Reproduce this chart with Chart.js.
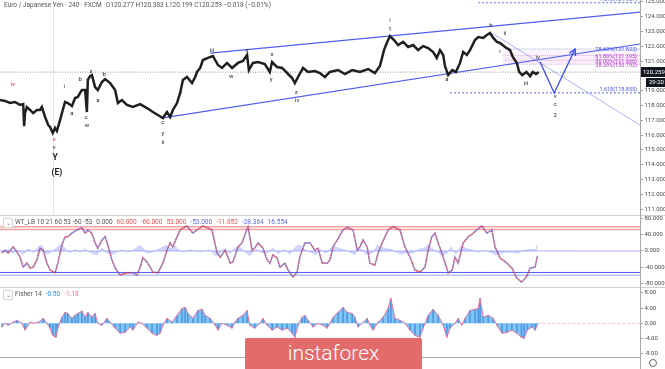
<!DOCTYPE html>
<html><head><meta charset="utf-8">
<script src="https://cdn.jsdelivr.net/npm/chart.js@4.4.1/dist/chart.umd.min.js"></script>
<style>
html,body{margin:0;padding:0;background:#fff;}
#wrap{position:relative;width:665px;height:369px;overflow:hidden;font-family:Roboto,"Liberation Sans",Arial,sans-serif;}
canvas{position:absolute;left:0;}
.sep{position:absolute;left:0;width:665px;height:1px;background:#cfcfcf;}
.vax{position:absolute;left:640px;top:0;width:1px;height:369px;background:#a8a8a8;}
.hdr{position:absolute;font-size:6.5px;line-height:8px;color:#555;white-space:nowrap;}
.hdr span{margin-left:4px;}
.box{position:absolute;width:8px;height:8px;border:1px solid #d4d4d4;border-radius:1px;font-size:6px;line-height:7px;text-align:center;color:#777;background:#fff;}
.wm{position:absolute;left:245px;top:338px;width:177px;height:34px;background:#e36b6b;border-radius:2px;color:#fff;font-size:21px;font-weight:300;text-align:center;line-height:31px;}
.gear{position:absolute;left:649px;top:359px;width:6px;height:6px;border:1.5px solid #666;border-radius:50%;}
</style></head>
<body><div id="wrap">
<canvas id="cMain" width="665" height="215" style="top:0"></canvas>
<canvas id="cWT" width="665" height="71" style="top:216px"></canvas>
<canvas id="cFisher" width="665" height="81" style="top:288px"></canvas>
<div class="sep" style="top:215px"></div>
<div class="sep" style="top:287px"></div>
<div class="vax"></div>
<div class="hdr" style="left:4px;top:1px">Euro / Japanese Yen · 240 · FXCM<span>O120.277</span> H120.383 L120.199 C120.259 −0.018 (−0.01%)</div>
<div class="box" style="left:3px;top:218px">⌄</div>
<div class="hdr" style="left:15px;top:218px">WT_LB 10 21 60 53 -60 -53<span>0.000</span><span style="color:#ef5350">60.000</span><span style="color:#ef5350">-60.000</span><span style="color:#ef5350">53.000</span><span style="color:#5c6bf0">-53.000</span><span style="color:#ef5350">-11.852</span><span style="color:#5c6bf0">-28.364</span><span style="color:#5c6bf0">16.554</span></div>
<div class="box" style="left:3px;top:290px">⌄</div>
<div class="hdr" style="left:15px;top:290px">Fisher 14<span style="color:#2196f3">-0.50</span><span style="color:#f06292">-1.18</span></div>
<div class="wm">instaforex</div>
<div class="gear"></div>
</div>
<script>
// ---------- DATA (x = trading days since 20 Aug 2019) ----------
const X_MIN = -1.1, X_MAX = 139.56;
const timeTickDays   = [0, 9.2, 19.1, 31.0, 40.2, 54.3, 64.9, 74.9, 84.9, 96.3, 108.4, 118.0, 128.8, 138.0];
const timeTickLabels = ['20','Sep','16','Oct','14','Nov','18','Dec','16','2020','20','Feb','17','Mar'];

const priceTicks  = [111,112,113,114,115,116,117,118,119,120,121,122,123,124,125];
const wtTicks     = [80,40,0,-40,-80];
const fisherTicks = [8,4,0,-4,-8];

const lastClose = 120.259;
const markerDay = 10.5;

const priceSeries = [
 [-1.1,118.37],[0,118.31],[1.1,118.17],[2.2,118.24],[3.3,118.04],[4.0,118.10],[4.2,116.60],[4.4,117.49],[4.8,117.90],[5.5,117.70],
 [6.2,117.49],[7.0,117.70],[7.7,117.70],[8.1,117.90],[8.8,117.23],[9.5,116.68],[9.9,116.55],[10.5,116.14],[11.0,116.48],[11.4,116.28],
 [12.1,117.02],[12.7,117.70],[13.2,118.24],[13.8,118.17],[14.7,117.97],[15.4,118.51],[16.0,118.58],[16.5,118.85],[16.9,119.05],[17.6,119.05],
 [18.0,117.56],[18.2,119.73],[18.7,119.99],[19.1,120.06],[19.8,119.25],[20.4,119.05],[21.3,119.59],[22.0,119.79],[23.1,119.52],[24.2,119.05],
 [24.8,118.17],[25.7,118.37],[26.8,118.04],[28.1,117.90],[29.7,118.10],[31.2,117.83],[32.5,117.56],[33.6,117.36],[34.7,117.16],[35.6,117.56],
 [36.3,117.23],[36.9,117.70],[37.8,118.17],[38.5,118.85],[39.1,119.73],[40.0,119.93],[41.1,119.52],[41.8,119.93],[42.2,120.27],[42.9,120.54],
 [43.5,121.08],[44.6,121.22],[45.7,121.35],[46.8,120.74],[47.7,120.54],[48.8,120.88],[49.9,120.54],[51.2,120.88],[52.3,121.01],[53.2,121.42],
 [53.6,120.40],[54.5,120.88],[55.6,120.94],[57.1,120.81],[58.2,120.27],[58.7,120.94],[59.8,120.60],[60.9,120.54],[62.0,120.20],[63.1,119.86],
 [63.7,119.52],[64.4,119.93],[65.5,120.54],[66.6,120.27],[68.1,120.33],[69.2,120.20],[70.3,119.93],[71.4,120.27],[73.2,120.40],[74.7,120.13],
 [76.3,120.40],[78.0,120.27],[79.8,120.47],[81.3,120.20],[82.4,120.67],[83.3,121.75],[84.0,122.30],[84.6,122.70],[85.5,122.43],[86.4,122.09],
 [87.5,122.30],[88.6,121.96],[89.7,122.09],[90.8,121.75],[91.9,122.02],[93.0,121.89],[94.1,121.62],[94.9,121.22],[95.6,121.75],[96.3,121.42],
 [96.7,120.67],[97.4,120.06],[98.3,120.40],[99.1,120.27],[100.0,120.88],[100.7,121.62],[101.5,121.42],[102.2,121.75],[103.3,122.43],[104.0,122.63],
 [105.1,122.57],[105.9,122.77],[106.6,122.90],[107.3,122.57],[108.1,122.30],[108.8,122.23],[109.9,121.96],[111.0,121.75],[111.6,121.28],[112.5,120.88],
 [113.0,120.27],[113.7,120.06],[114.6,120.27],[115.4,119.99],[116.0,120.27],[116.7,120.13],[117.3,120.259]
];

const upperChannel = [[45.1,121.55],[139.56,124.32]];
const lowerChannel = [[34.7,117.16],[139.56,122.16]];
const trendFromB   = [[107.0,122.90],[139.56,116.68]];
const projection   = [[117.6,120.94],[120.7,118.85],[125.3,121.82]];

const fibNames  = ['78.60%','61.80%','50.00%','38.20%'];
const fibPrices = [121.823,121.395,121.066,120.792];
const fibStart  = 109.5;
const extPrices = [124.951,118.855];
const extStarts = [104.0,97.8];

const waveLabels = [
 ['iv',1.7,119.39,'sub'],['i',13.0,119.32,'n'],['a',14.7,117.49,'n'],['b',16.5,119.73,'n'],['c',17.8,117.22,'n'],
 ['w',18.0,116.62,'n'],['x',18.9,120.27,'n'],['a',20.4,118.31,'n'],['b',21.8,120.13,'n'],['v',10.8,115.73,'sub'],
 ['v',10.8,115.13,'n'],['Y',11.0,114.45,'big'],['(E)',11.4,113.44,'big'],['c',34.7,116.82,'n'],['y',34.7,116.14,'n'],
 ['ii',34.7,115.53,'n'],['i',38.7,118.85,'n'],['iii',45.5,121.75,'n'],['w',49.7,119.99,'n'],['x',53.2,121.75,'n'],
 ['x',58.7,121.42,'n'],['y',58.5,119.79,'n'],['z',64.0,118.91,'n'],['iv',64.2,118.31,'n'],['i',84.6,123.78,'n'],
 ['1',84.6,123.11,'n'],['a',97.1,119.79,'n'],['b',106.8,123.38,'n'],['ii',109.9,122.90,'n'],['i',108.8,121.62,'n'],
 ['iii',114.5,119.52,'n'],['iv',117.1,121.28,'n'],['v',120.9,118.58,'n'],['c',120.9,118.04,'n'],['2',120.9,117.36,'n']
];

const wtSeries = [
 [-0.7,-5],[0,2],[0.7,-5],[1.8,10],[2.6,-2],[3.3,-15],[4.0,-40],[4.8,-30],[5.5,-42],[6.2,-40],
 [7.0,-22],[7.7,7],[8.4,2],[9.2,-30],[9.9,-47],[11.0,-54],[11.6,-30],[12.5,15],[13.2,35],[13.8,35],
 [14.7,44],[15.8,52],[16.9,58],[17.6,44],[18.2,52],[19.1,44],[19.8,20],[20.4,7],[21.3,27],[22.0,35],
 [22.6,15],[23.5,-22],[24.2,-42],[25.3,-59],[26.8,-54],[28.1,-54],[29.0,-59],[29.7,-40],[30.3,-17],[31.2,-27],
 [31.9,-40],[32.5,-52],[33.6,-54],[34.7,-30],[35.6,2],[36.3,20],[36.9,10],[37.8,35],[38.5,52],[40.0,62],
 [40.7,52],[41.3,44],[42.2,52],[43.5,62],[45.5,52],[46.6,-5],[47.3,-15],[48.4,2],[49.5,-30],[50.1,-27],
 [51.2,10],[52.1,20],[53.2,55],[53.4,60],[54.3,2],[54.9,7],[55.6,20],[56.7,7],[57.6,-22],[58.2,-30],
 [58.9,-10],[59.8,-17],[60.4,-40],[61.5,-30],[62.2,-47],[63.3,-64],[64.2,-52],[64.8,-15],[65.9,20],[67.0,20],
 [68.1,2],[68.8,7],[69.7,-30],[70.8,-30],[71.4,-22],[72.1,10],[73.0,27],[74.3,52],[75.2,58],[76.5,52],
 [77.4,2],[78.0,10],[78.7,27],[79.6,10],[80.2,-30],[81.3,-35],[82.0,-5],[82.9,20],[83.5,35],[84.2,52],
 [85.3,60],[86.8,52],[87.9,10],[89.0,-15],[90.1,-47],[91.2,-52],[92.3,-40],[93.0,2],[93.8,35],[94.5,44],
 [95.2,20],[96.3,-15],[97.4,-54],[98.3,-47],[98.9,-15],[99.6,-30],[100.7,20],[101.8,35],[102.9,44],[103.7,52],
 [104.8,62],[105.9,44],[107.0,52],[107.7,10],[108.8,-17],[110.3,-30],[111.4,-42],[112.5,-67],[113.5,-77],[114.6,-64],
 [115.4,-42],[116.5,-40],[117.0,-12]
];
const wtHist = [
 [-0.7,-3],[0.7,4],[1.8,-6],[2.6,3],[4.0,-10],[5.1,6],[6.2,-4],[7.3,10],[8.1,14],[9.0,-8],
 [9.9,-5],[11.0,4],[11.6,12],[12.5,16],[13.2,6],[14.3,-5],[15.4,4],[16.5,-3],[17.6,5],[19.1,-6],
 [20.2,-10],[21.3,8],[22.4,-5],[23.5,-8],[24.6,-4],[25.7,3],[27.0,-3],[28.6,5],[29.5,14],[30.3,8],
 [31.2,-6],[32.3,-3],[33.6,4],[34.7,10],[35.4,14],[36.3,6],[37.4,12],[38.0,4],[39.1,-3],[40.7,3],
 [42.9,-2],[45.1,3],[46.2,-12],[47.0,-8],[48.1,6],[49.5,-6],[50.5,8],[51.6,10],[53.0,-5],[53.8,-12],
 [55.2,4],[56.5,-5],[57.8,-4],[58.9,8],[60.0,-8],[61.3,4],[62.6,-8],[64.0,12],[64.8,14],[65.9,3],
 [67.5,-5],[68.4,-10],[69.2,4],[70.5,-6],[71.4,6],[72.3,12],[73.6,6],[74.7,3],[75.8,-3],[76.9,-10],
 [77.6,6],[78.5,4],[79.3,-8],[80.7,-6],[81.8,14],[82.6,10],[83.7,6],[85.1,3],[86.2,-5],[87.3,-8],
 [88.4,-4],[89.5,-6],[90.8,4],[92.1,8],[93.0,16],[93.8,6],[95.2,-4],[96.0,-12],[97.1,-6],[98.0,10],
 [99.1,-8],[100.2,12],[101.5,6],[102.6,3],[104.0,-3],[105.3,2],[106.6,-3],[107.9,-10],[108.8,-6],[110.1,-4],
 [111.4,-3],[112.7,-6],[113.9,2],[115.4,4],[116.5,3],[117.0,16.6]
];
const wtLevels = [60,53,-53,-60];

const fisherSeries = [
 [-0.7,-1.0],[0,0],[0.7,-0.5],[1.8,0.3],[2.6,0.8],[3.7,0],[4.4,-1.8],[5.5,0.3],[6.2,0],[7.3,0.3],
 [8.4,1.3],[9.2,0],[9.9,-1.3],[10.5,-3.2],[11.2,-3.7],[11.6,-1.3],[12.5,1.6],[13.2,2.9],[13.8,2.6],[14.7,1.3],
 [15.4,2.1],[16.0,2.6],[16.9,3.2],[17.6,1.6],[18.2,2.9],[19.1,1.6],[19.8,2.6],[20.4,0],[21.3,-0.5],[22.4,1.3],
 [23.1,0.3],[24.2,-1.3],[25.3,-2.6],[26.4,-2.4],[27.5,-1.0],[28.1,-1.8],[29.2,0.3],[30.1,0],[31.2,-1.3],[32.3,-2.6],
 [33.4,-3.2],[34.1,-2.6],[34.7,-0.5],[35.6,1.3],[36.7,0.3],[37.8,2.1],[38.9,3.9],[39.6,4.2],[40.2,2.6],[41.3,1.3],
 [42.4,3.4],[43.3,3.7],[44.0,2.1],[45.1,1.3],[46.2,-0.5],[46.8,-1.8],[47.7,0],[48.8,-0.5],[49.9,-1.3],[50.5,0.3],
 [51.2,1.3],[52.3,2.1],[53.2,3.4],[53.8,-0.5],[54.9,-1.3],[56.0,0],[56.7,1.3],[57.6,-0.5],[58.7,-1.8],[59.8,-1.0],
 [60.9,-1.8],[62.0,-1.3],[63.1,-2.6],[63.7,-3.7],[64.4,-0.5],[65.3,1.6],[65.9,2.1],[66.6,0.8],[67.7,-1.0],[68.8,0],
 [69.9,-0.5],[70.8,-1.3],[71.4,0],[72.1,1.6],[73.2,2.9],[74.3,4.2],[75.2,2.9],[76.3,2.6],[76.9,1.6],[77.6,-1.0],
 [78.5,0],[79.6,1.3],[80.2,-0.5],[80.9,-1.8],[82.0,0.3],[83.1,1.6],[84.2,3.9],[84.8,6.6],[85.7,1.3],[86.8,0.8],
 [87.9,0],[89.0,-1.8],[90.1,-3.2],[91.2,-3.7],[91.9,-1.3],[93.0,2.1],[94.1,3.7],[95.2,2.1],[96.3,-0.5],[97.1,-3.7],
 [97.8,-1.3],[98.9,0],[99.6,1.3],[100.4,-0.5],[101.1,1.3],[102.2,3.4],[103.3,3.7],[104.0,3.9],[104.4,6.6],[105.1,1.6],
 [106.2,2.1],[107.3,1.3],[108.1,-0.5],[109.2,-2.6],[110.3,-2.4],[111.4,-1.8],[112.5,-2.6],[113.5,-3.7],[114.1,-4.0],[114.8,-1.8],
 [115.8,-1.0],[116.5,-1.8],[117.0,-0.5]
];

// ---------- helpers ----------
const toXY = arr => arr.map(([d,v]) => ({x:d, y:v}));
const FONT = 'Roboto, "Liberation Sans", Arial, sans-serif';
const AX_COLOR = '#4a4a4a';

function xHidden(){ return {type:'linear', min:X_MIN, max:X_MAX, display:false, offset:false}; }
function yRight(min, max, ticksArr, dec){
  return {
    position:'right', min, max,
    afterFit(s){ s.width = 25; s.paddingTop = 0; s.paddingBottom = 0; },
    afterBuildTicks(s){ s.ticks = ticksArr.map(v => ({value:v})); },
    grid:{drawOnChartArea:false, drawTicks:true, tickLength:3, color:'#9e9e9e'},
    border:{display:false},
    ticks:{padding:1.5, color:AX_COLOR, font:{size:6, family:FONT}, callback:v => Number(v).toFixed(dec)}
  };
}
function seg(data, color, width, dash){
  return {type:'line', data, borderColor:color, borderWidth:width, borderDash:dash||[], pointRadius:0, tension:0, fill:false};
}
const baseOpts = {responsive:false, animation:false, events:[], layout:{padding:0},
  plugins:{legend:{display:false}, tooltip:{enabled:false}}};

// ---------- MAIN PRICE PANE ----------
const projColor = '#3d50f2';
const mainDatasets = [
  seg(toXY(priceSeries), '#1f1f1f', 2.5),
  seg(toXY(projection), projColor, 1.4),
  seg(toXY(upperChannel), '#4d5ff2', 1.2),
  seg(toXY(lowerChannel), '#4d5ff2', 1.2),
  seg(toXY(trendFromB), 'rgba(110,125,245,0.75)', 0.8),
  seg([{x:X_MIN,y:lastClose},{x:X_MAX,y:lastClose}], '#8c8c8c', 1, [1,1.5]),
  seg([{x:extStarts[0],y:extPrices[0]},{x:X_MAX,y:extPrices[0]}], '#5865f0', 1, [2,2]),
  seg([{x:extStarts[1],y:extPrices[1]},{x:X_MAX,y:extPrices[1]}], '#5865f0', 1, [2,2])
];
const fibLineColors = ['rgba(100,140,240,0.8)','rgba(206,110,220,0.7)','rgba(206,110,220,0.7)','rgba(206,110,220,0.7)'];
const fibFillColors = [null,'rgba(215,170,235,0.12)','rgba(225,150,225,0.18)','rgba(225,150,225,0.18)'];
fibPrices.forEach((p,i) => {
  const ds = seg([{x:fibStart,y:p},{x:X_MAX,y:p}], fibLineColors[i], 0.8, [1,1]);
  if (i > 0) { ds.fill = '-1'; ds.backgroundColor = fibFillColors[i]; }
  mainDatasets.push(ds);
});

const mainDecor = {
  id:'mainDecor',
  beforeDatasetsDraw(chart){
    const {ctx, scales:{x}, chartArea:a} = chart;
    const px = Math.round(x.getPixelForValue(markerDay)) + 0.5;
    ctx.save(); ctx.strokeStyle = '#e4e6ec'; ctx.lineWidth = 1;
    ctx.beginPath(); ctx.moveTo(px, a.top); ctx.lineTo(px, a.bottom); ctx.stroke(); ctx.restore();
  },
  afterDatasetsDraw(chart){
    const {ctx, scales:{x, y}, chartArea:a} = chart;
    ctx.save();
    ctx.textAlign = 'center'; ctx.textBaseline = 'middle';
    waveLabels.forEach(([t,d,p,deg]) => {
      if (deg === 'big') { ctx.font = 'bold 8.5px ' + FONT; ctx.fillStyle = '#1e1e1e'; }
      else if (deg === 'sub') { ctx.font = '6px ' + FONT; ctx.fillStyle = '#e91e63'; }
      else { ctx.font = '6px ' + FONT; ctx.fillStyle = '#1e1e1e'; }
      ctx.fillText(t, x.getPixelForValue(d), y.getPixelForValue(p));
    });
    const n = projection.length;
    const x1 = x.getPixelForValue(projection[n-2][0]), y1 = y.getPixelForValue(projection[n-2][1]);
    const x2 = x.getPixelForValue(projection[n-1][0]), y2 = y.getPixelForValue(projection[n-1][1]);
    const ang = Math.atan2(y2-y1, x2-x1);
    ctx.strokeStyle = projColor; ctx.lineWidth = 1.4;
    ctx.beginPath();
    ctx.moveTo(x2 - 7*Math.cos(ang-0.5), y2 - 7*Math.sin(ang-0.5));
    ctx.lineTo(x2, y2);
    ctx.lineTo(x2 - 7*Math.cos(ang+0.5), y2 - 7*Math.sin(ang+0.5));
    ctx.stroke();
    ctx.textAlign = 'right'; ctx.textBaseline = 'middle'; ctx.font = '5.5px ' + FONT;
    fibPrices.forEach((p,i) => {
      ctx.fillStyle = i === 0 ? '#4a5ae8' : '#b03fc8';
      ctx.fillText(fibNames[i] + '(' + p.toFixed(3) + ')', a.right - 3, y.getPixelForValue(p) + 1);
    });
    ctx.textBaseline = 'bottom'; ctx.fillStyle = '#4a5ae8';
    extPrices.forEach(p => ctx.fillText('1.618(' + p.toFixed(3) + ')', a.right - 3, y.getPixelForValue(p) - 0.5));
    const py = Math.round(y.getPixelForValue(lastClose));
    ctx.fillStyle = '#131722';
    ctx.fillRect(a.right + 1, py - 5, 24, 10);
    ctx.fillRect(a.right + 6, py + 6, 19, 9);
    ctx.fillStyle = '#fff'; ctx.textAlign = 'left'; ctx.textBaseline = 'middle'; ctx.font = '6px ' + FONT;
    ctx.fillText(lastClose.toFixed(3), a.right + 3, py + 0.5);
    ctx.fillText('29:20', a.right + 9, py + 10.5);
    ctx.restore();
  }
};

new Chart(document.getElementById('cMain'), {
  type:'line',
  data:{datasets:mainDatasets},
  options:{...baseOpts, scales:{x:xHidden(), y:yRight(110.6, 125.135, priceTicks, 3)}},
  plugins:[mainDecor]
});

// ---------- WT PANE ----------
const wtLevelColors = ['rgba(239,83,80,0.55)','rgba(239,83,80,0.55)','#4c5df0','rgba(100,115,240,0.45)'];
const wtDatasets = [
  seg(toXY(wtSeries), '#e53935', 1.3, [1,1.2]),
  seg(toXY(wtSeries), 'rgba(80,95,235,0.55)', 1.6),
  seg([{x:X_MIN,y:0},{x:X_MAX,y:0}], 'rgba(120,130,235,0.6)', 1)
];
wtLevels.forEach((v,i) => wtDatasets.push(seg([{x:X_MIN,y:v},{x:X_MAX,y:v}], wtLevelColors[i], i===2?1:1.6)));
const histDs = seg(toXY(wtHist), 'rgba(110,120,240,0.35)', 0.5);
histDs.fill = 'origin'; histDs.backgroundColor = 'rgba(110,120,240,0.3)';
wtDatasets.push(histDs);

new Chart(document.getElementById('cWT'), {
  type:'line',
  data:{datasets:wtDatasets},
  options:{...baseOpts, scales:{x:xHidden(), y:yRight(-88.9, 86.4, wtTicks, 3)}}
});

// ---------- FISHER PANE ----------
const fisherLine = seg(toXY(fisherSeries), '#ec6f9a', 1);
const fisherBars = {type:'bar', data:toXY(fisherSeries), backgroundColor:'rgba(30,110,210,0.5)', barThickness:1, borderWidth:0};
const fisherArea = seg(toXY(fisherSeries), 'rgba(0,0,0,0)', 0);
fisherArea.fill = 'origin'; fisherArea.backgroundColor = 'rgba(105,188,246,0.85)';
const fisherZero = seg([{x:fisherSeries[fisherSeries.length-1][0],y:0},{x:X_MAX,y:0}], 'rgba(240,120,140,0.6)', 0.8, [3,2]);

new Chart(document.getElementById('cFisher'), {
  type:'line',
  data:{datasets:[fisherLine, fisherBars, fisherArea, fisherZero]},
  options:{...baseOpts, scales:{
    x:{type:'linear', min:X_MIN, max:X_MAX, position:'bottom', offset:false,
       afterFit(s){ s.height = 12; s.paddingLeft = 0; s.paddingRight = 0; },
       afterBuildTicks(s){ s.ticks = timeTickDays.map(v => ({value:v})); },
       grid:{display:false}, border:{display:true, color:'#a8a8a8'},
       ticks:{autoSkip:false, maxRotation:0, padding:3, color:AX_COLOR, font:{size:6.5, family:FONT},
              callback:(v,i) => timeTickLabels[i]}},
    y:yRight(-8.87, 9.29, fisherTicks, 2)
  }}
});
</script>
</body></html>
